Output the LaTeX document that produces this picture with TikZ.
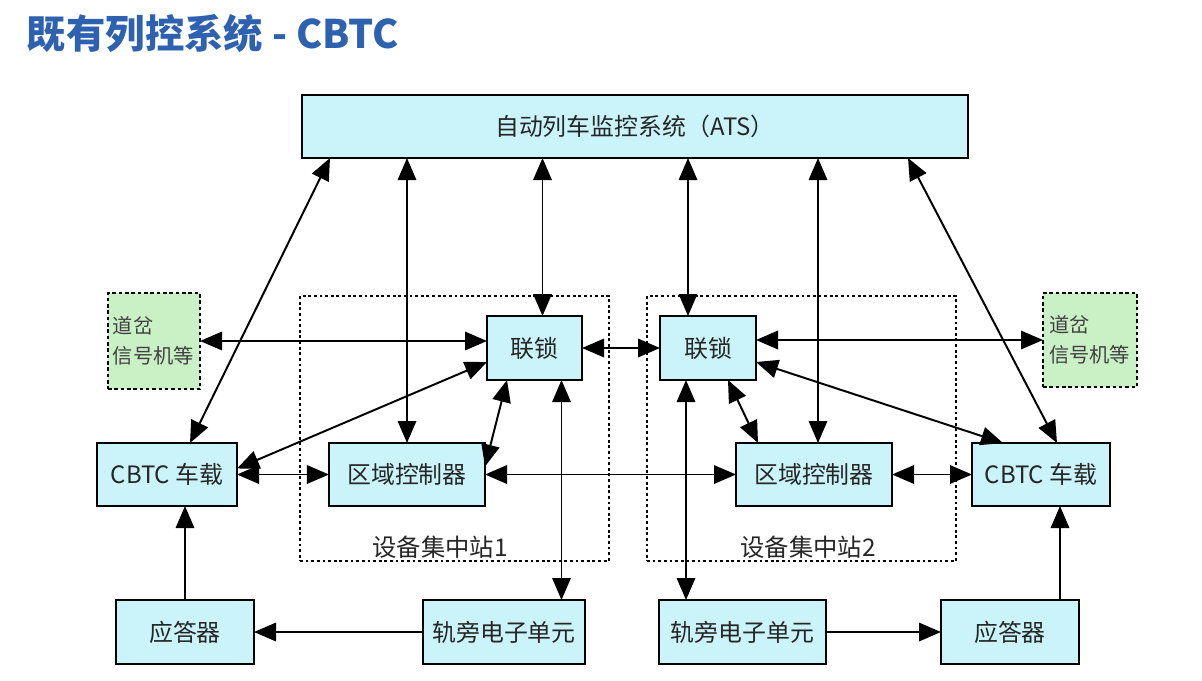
\documentclass[tikz,border=0pt]{standalone}
\usepackage{fontspec}
\setmainfont{Noto Sans CJK SC}
\usetikzlibrary{calc,arrows.meta}
\definecolor{boxcyan}{RGB}{202,244,250}
\definecolor{boxgreen}{RGB}{202,240,198}
\definecolor{titleblue}{RGB}{46,98,176}

\begin{document}
\begin{tikzpicture}[x=0.025cm, y=-0.025cm,
    wh/.style 2 args={minimum width=#1*0.025cm, minimum height=#2*0.025cm},
    box/.style={draw, line width=1.6pt, fill=boxcyan, inner sep=0pt, outer sep=0pt,
        font=\fontsize{17}{20}\selectfont, text=black!85},
    sig/.style={draw, line width=1.5pt, dash pattern=on 2.5pt off 2pt, fill=boxgreen,
        inner sep=0pt, outer sep=0pt, align=left, text width=2.05cm,
        font=\fontsize{14.4}{21}\selectfont, text=black!75},
    station/.style={draw, line width=0.8pt, dash pattern=on 2pt off 2pt, inner sep=0pt},
    lbl/.style={font=\fontsize{17.3}{20}\selectfont, text=black!85},
    link/.style={line width=1.4pt, {Triangle[length=5.5mm,width=4.6mm]}-{Triangle[length=5.5mm,width=4.6mm]}},
    feed/.style={line width=1.4pt, -{Triangle[length=5.5mm,width=4.6mm]}}]
    \useasboundingbox (0,0) rectangle (1202,680);

    \node[anchor=west, font=\fontsize{28}{32}\selectfont\bfseries, text=titleblue] (title) at (22,33) {既有列控系统 - CBTC};

    \node[station, wh={309}{265}] (st1) at (454.5,428.5) {};
    \node[station, wh={309}{265}] (st2) at (801.5,428.5) {};
    \node[lbl] (st1lbl) at (440,547) {设备集中站1};
    \node[lbl] (st2lbl) at (808,547) {设备集中站2};

    \node[box, wh={666}{63}] (ats) at (635,126.5) {自动列车监控系统（ATS）};
    \node[sig, wh={92}{96}] (swL) at (154,341) {道岔\\信号机等};
    \node[sig, wh={94}{94}] (swR) at (1090,340) {道岔\\信号机等};
    \node[box, wh={95}{64}] (ils1) at (534.5,348) {联锁};
    \node[box, wh={96}{64}] (ils2) at (708,348) {联锁};
    \node[box, wh={156}{63}] (zc1) at (407,474.5) {区域控制器};
    \node[box, wh={156}{63}] (zc2) at (814,474.5) {区域控制器};
    \node[box, wh={140}{63}] (obcL) at (167,474.5) {CBTC 车载};
    \node[box, wh={138}{63}] (obcR) at (1041,474.5) {CBTC 车载};
    \node[box, wh={138}{64}] (balL) at (185,632) {应答器};
    \node[box, wh={162}{64}] (leu1) at (504,632) {轨旁电子单元};
    \node[box, wh={167}{64}] (leu2) at (742.5,632) {轨旁电子单元};
    \node[box, wh={138}{64}] (balR) at (1010,632) {应答器};

    \draw[link] ($(ats.south west)+(28,0)$) -- ($(obcL.north)+(23,0)$);
    \draw[link] (ats.south -| zc1.north) -- (zc1.north);
    \draw[link] ($(ils1.north |- ats.south)+(8,0)$) -- ($(ils1.north)+(8,0)$);
    \draw[link] ($(ils2.north |- ats.south)+(-20,0)$) -- ($(ils2.north)+(-20,0)$);
    \draw[link] ($(zc2.north |- ats.south)+(4,0)$) -- ($(zc2.north)+(4,0)$);
    \draw[link] ($(ats.south east)+(-60,0)$) -- ($(obcR.north)+(16,0)$);
    \draw[link] (swL.east) -- (swL.east -| ils1.west);
    \draw[link] ($(ils1.west)+(0,14)$) -- ($(obcL.east)+(0,-6)$);
    \draw[link] (obcL.east) -- (zc1.west);
    \draw[link] ($(ils1.south west)+(20,0)$) -- ($(zc1.east)+(0,-8)$);
    \draw[link] (zc1.east) -- (zc2.west);
    \draw[link] ($(ils1.south)+(27,0)$) -- ($(ils1.south |- leu1.north)+(27,0)$);
    \draw[link] (ils1.east) -- (ils2.west);
    \draw[link] ($(ils2.south)+(-22,0)$) -- ($(ils2.south |- leu2.north)+(-22,0)$);
    \draw[link] ($(ils2.south)+(20,0)$) -- ($(zc2.north west)+(22,0)$);
    \draw[link] (swR.west) -- (swR.west -| ils2.east);
    \draw[link] ($(ils2.east)+(0,14)$) -- ($(obcR.north west)+(31,0)$);
    \draw[link] (zc2.east) -- (obcR.west);
    \draw[feed] (balL.north) -- (balL.north |- obcL.south);
    \draw[feed] (leu1.west) -- (balL.east);
    \draw[feed] (leu2.east) -- (balR.west);
    \draw[feed] ($(balR.north)+(50,0)$) -- ($(balR.north |- obcR.south)+(50,0)$);
\end{tikzpicture}
\end{document}
